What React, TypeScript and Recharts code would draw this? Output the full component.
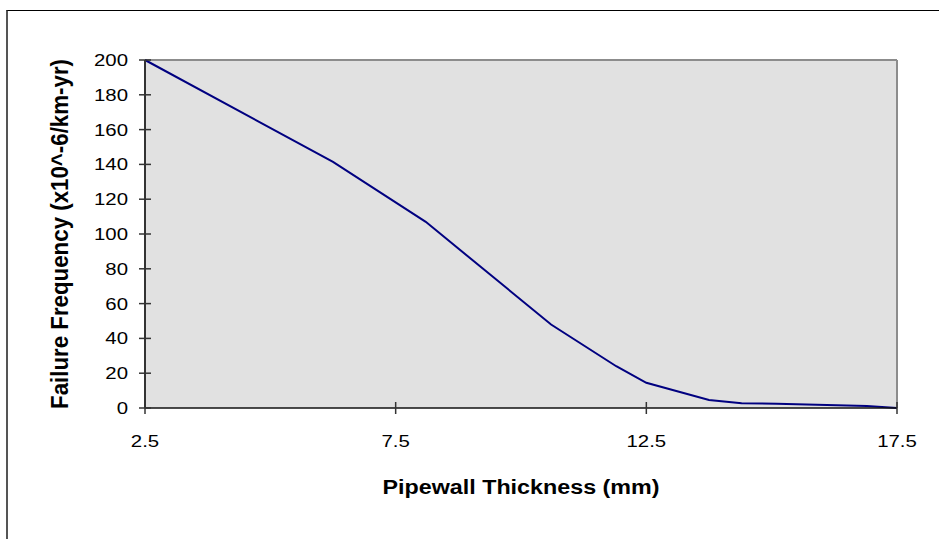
import { LineChart, Line, XAxis, YAxis, CartesianGrid, ReferenceLine, Label } from 'recharts';

// Pipewall thickness (mm) vs failure frequency (x10^-6/km-yr)
const thickness = [2.5, 6.25, 8.1, 10.6, 11.9, 12.5, 13.75, 14.4, 15.1, 16.9, 17.5];
const frequency = [200, 141.5, 107, 48, 24, 14.5, 4.6, 2.7, 2.5, 1.2, 0];

const xTicks = [2.5, 7.5, 12.5, 17.5];
const yTicks = [0, 20, 40, 60, 80, 100, 120, 140, 160, 180, 200];

const data = thickness.map((t, i) => ({ t, f: frequency[i] }));

const FONT = '"Liberation Sans", Arial, sans-serif';

// plot frame edges (set by the chart margins / axis sizes below)
const PLOT_LEFT = 145;
const PLOT_BOTTOM = 408;

function YTick({ y, payload }: any) {
  const x = PLOT_LEFT;
  return (
    <g>
      <line x1={x - 6} x2={x + 6} y1={y} y2={y} stroke="#333" strokeWidth={1.5} />
      <text
        transform={`translate(${x - 17},${y + 6}) scale(1.2,1)`}
        textAnchor="end"
        fontSize={17}
        fontFamily={FONT}
        fill="#000"
      >
        {payload.value}
      </text>
    </g>
  );
}

function XTick({ x, payload }: any) {
  const y = PLOT_BOTTOM;
  return (
    <g>
      <line x1={x} x2={x} y1={y - 6} y2={y + 6} stroke="#333" strokeWidth={1.5} />
      <text
        transform={`translate(${x},${y + 38.5}) scale(1.2,1)`}
        textAnchor="middle"
        fontSize={17}
        fontFamily={FONT}
        fill="#000"
      >
        {payload.value}
      </text>
    </g>
  );
}

export default function App() {
  return (
    <div style={{ position: 'absolute', left: 0, top: 0, width: 939, height: 539, background: '#fff', overflow: 'hidden' }}>
      {/* outer chart frame, cut off at right and bottom */}
      <div
        style={{
          position: 'absolute',
          left: 6,
          top: 10,
          width: 960,
          height: 560,
          borderTop: '1px solid #000',
          borderLeft: '2px solid #555',
        }}
      />
      <div style={{ position: 'absolute', left: 0, top: 0 }}>
        <LineChart width={939} height={539} data={data} margin={{ top: 60, right: 42, bottom: 0, left: 0 }}>
          <CartesianGrid fill="#E1E1E1" stroke="none" horizontal={false} vertical={false} />
          <XAxis
            dataKey="t"
            type="number"
            domain={[2.5, 17.5]}
            ticks={xTicks}
            height={131}
            tickSize={0}
            tickMargin={0}
            tick={<XTick />}
            axisLine={{ stroke: '#111', strokeWidth: 1.5 }}
            interval={0}
          >
            <Label
              content={() => (
                <text
                  x={521}
                  y={487}
                  dominantBaseline="central"
                  textAnchor="middle"
                  fontSize={20}
                  fontWeight="bold"
                  fontFamily={FONT}
                  textLength={277}
                  lengthAdjust="spacingAndGlyphs"
                  fill="#000"
                >
                  Pipewall Thickness (mm)
                </text>
              )}
            />
          </XAxis>
          <YAxis
            type="number"
            domain={[0, 200]}
            ticks={yTicks}
            width={145}
            tickSize={0}
            tickMargin={0}
            tick={<YTick />}
            axisLine={{ stroke: '#333', strokeWidth: 2 }}
            interval={0}
          >
            <Label
              content={() => (
                <text
                  transform="translate(60,234) scale(1.2,1) rotate(-90)"
                  dominantBaseline="central"
                  textAnchor="middle"
                  fontSize={20}
                  fontWeight="bold"
                  fontFamily={FONT}
                  textLength={350}
                  lengthAdjust="spacingAndGlyphs"
                  fill="#000"
                >
                  Failure Frequency (x10^-6/km-yr)
                </text>
              )}
            />
          </YAxis>
          <ReferenceLine y={200} stroke="#8C8C8C" strokeWidth={2} />
          <ReferenceLine x={17.5} stroke="#8C8C8C" strokeWidth={2} />
          <Line
            type="linear"
            dataKey="f"
            stroke="#000080"
            strokeWidth={2}
            dot={false}
            isAnimationActive={false}
          />
        </LineChart>
      </div>
    </div>
  );
}
